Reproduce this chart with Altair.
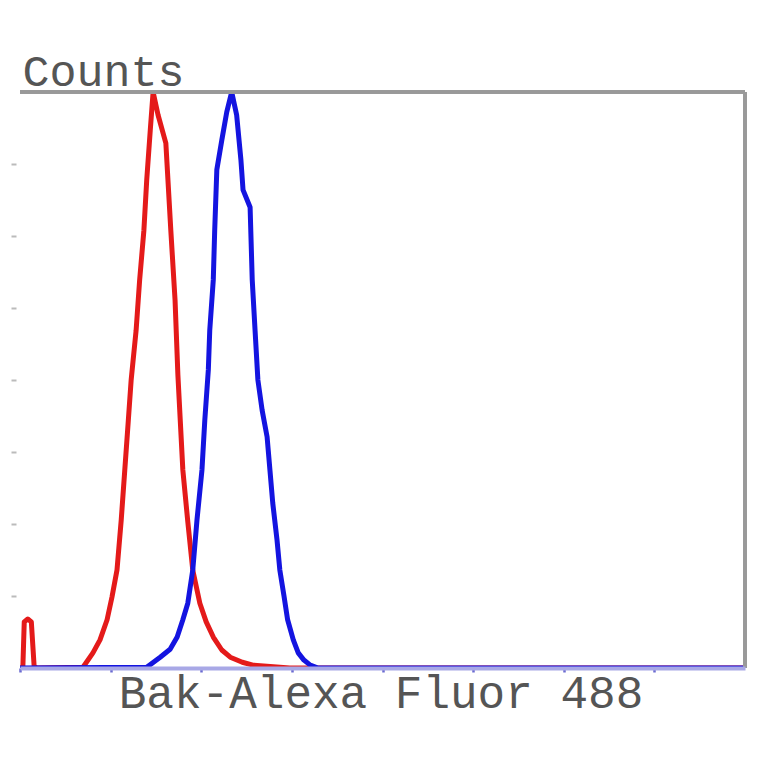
import altair as alt
import pandas as pd

# Channel (0-1024) and counts
red_x = [0, 4, 6, 11, 16, 20, 24, 89, 103, 113, 123, 130, 137, 143, 148, 153, 157,
         164, 169, 175, 179, 184, 188, 195, 206, 213, 219, 223, 230, 237, 244, 254,
         263, 273, 285, 297, 314, 329, 381, 1024]
red_y = [0, 0, 64, 68, 64, 2, 0, 1, 21, 39, 67, 99, 136, 206, 275, 344, 400,
         469, 539, 608, 678, 747, 800, 768, 729, 608, 511, 407, 275, 203, 136, 90,
         64, 43, 25, 15, 8, 4, 0, 0]

blue_x = [0, 179, 198, 212, 222, 230, 237, 244, 250, 257, 261, 266, 268, 273, 275,
          278, 285, 292, 299, 306, 312, 315, 325, 328, 332, 336, 342, 349, 353, 357,
          363, 367, 373, 378, 386, 393, 401, 410, 421, 1024]
blue_y = [0, 1, 15, 26, 43, 67, 90, 136, 206, 275, 344, 414, 469, 539, 608,
          692, 733, 772, 800, 768, 706, 664, 640, 539, 469, 400, 358, 321, 275, 229,
          178, 136, 99, 67, 39, 21, 11, 4, 0, 0]

x_ticks = [0, 128, 256, 384, 512, 640, 768, 896]
y_ticks = [100, 200, 300, 400, 500, 600, 700]

red_df = pd.DataFrame({"ch": red_x, "count": red_y, "i": range(len(red_x))})
blue_df = pd.DataFrame({"ch": blue_x, "count": blue_y, "i": range(len(blue_x))})

FONT = "Liberation Mono"
W, H = 725, 576

xscale = alt.Scale(domain=[0, 1024], nice=False, zero=False)
yscale = alt.Scale(domain=[0, 800], nice=False)

x_axis = alt.Axis(values=x_ticks, labels=False, tickSize=4, tickWidth=2.5,
                  tickColor="#6a6ad0", domainColor="#a8a8e6", domainWidth=4,
                  title="Bak-Alexa Fluor 488", titleFont=FONT, titleFontSize=46,
                  titleFontWeight="normal", titleColor="#555555",
                  titleBaseline="alphabetic", titleY=39, titleX=W / 2 - 2,
                  grid=False, zindex=1)
y_axis = alt.Axis(values=y_ticks, labels=False, tickSize=5, tickWidth=2,
                  tickColor="#bbbbbb", domain=False, offset=4,
                  title="Counts", titleFont=FONT, titleFontSize=45,
                  titleFontWeight="normal", titleColor="#555555",
                  titleAngle=0, titleAlign="left", titleBaseline="alphabetic",
                  titleX=6, titleY=-7, grid=False)

red = alt.Chart(red_df).mark_line(color="#e41a1a", strokeWidth=5, clip=True,
                                  strokeJoin="round").encode(
    x=alt.X("ch:Q", scale=xscale, axis=x_axis),
    y=alt.Y("count:Q", scale=yscale, axis=y_axis),
    order="i:Q",
)
blue = alt.Chart(blue_df).mark_line(color="#1414e0", strokeWidth=5, clip=True,
                                    strokeJoin="round").encode(
    x=alt.X("ch:Q", scale=xscale),
    y=alt.Y("count:Q", scale=yscale),
    order="i:Q",
)

top_rule = alt.Chart(red_df).mark_rule(color="#999999", strokeWidth=3).encode(
    x=alt.value(0), x2=alt.value(W), y=alt.value(0))
right_rule = alt.Chart(red_df).mark_rule(color="#999999", strokeWidth=3).encode(
    x=alt.value(W), y=alt.value(0), y2=alt.value(H))

chart = alt.layer(red, blue, top_rule, right_rule).properties(
    width=W, height=H,
    autosize=alt.AutoSizeParams(type="none"),
    padding={"left": 12, "top": 84, "right": 11, "bottom": 88},
).configure(
    background="white",
    view=alt.ViewConfig(strokeWidth=0, stroke="transparent"),
)

chart.save("out.html", embed_options={"renderer": "svg", "actions": False})
